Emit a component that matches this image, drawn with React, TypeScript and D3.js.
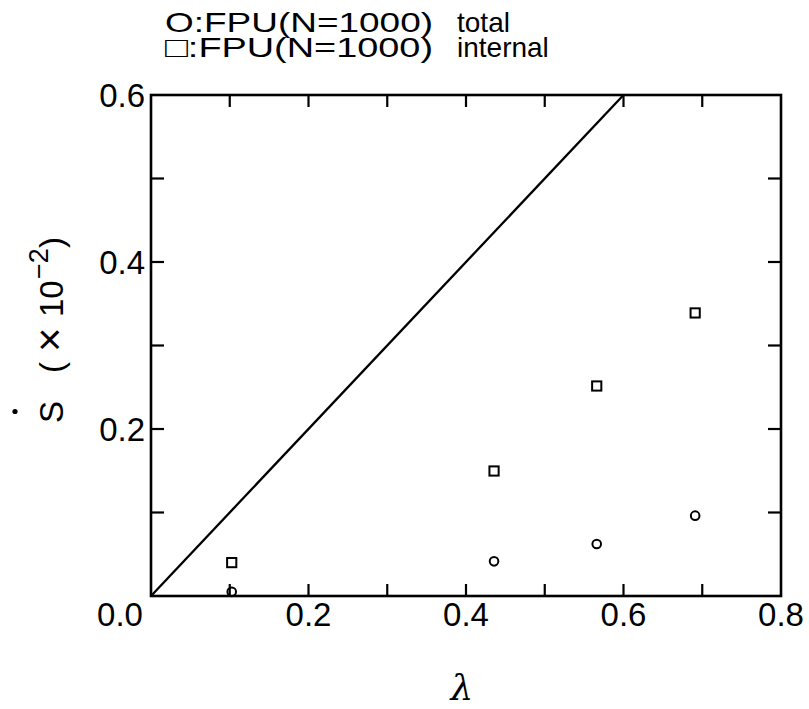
import React from "react";
import * as d3 from "d3";

const lambdaValues = [0.1025, 0.4356, 0.566, 0.691];
const totalValues = [0.005, 0.0415, 0.0623, 0.0962];
const internalValues = [0.04, 0.1497, 0.2515, 0.339];
const referenceLine = [
  [0, 0],
  [0.6, 0.6],
];
const xTicks = [0.1, 0.2, 0.3, 0.4, 0.5, 0.6, 0.7];
const xTickLabels = [0.2, 0.4, 0.6, 0.8];
const yTicks = [0.1, 0.2, 0.3, 0.4, 0.5];
const yTickLabels = [0.2, 0.4, 0.6];
const legendLabels = ["O:FPU(N=1000)", "\u25A1:FPU(N=1000)"];
const legendSuffix = ["total", "internal"];

const W = 809;
const H = 709;
const L = 151;
const R = 781;
const T = 95;
const B = 596;
const FONT = "'Liberation Sans', Arial, Helvetica, sans-serif";

export default function App() {
  const x = d3.scaleLinear().domain([0, 0.8]).range([L, R]);
  const y = d3.scaleLinear().domain([0, 0.6]).range([B, T]);
  const line = d3
    .line<number[]>()
    .x((d) => x(d[0]))
    .y((d) => y(d[1]));
  const fmt = d3.format(".1f");

  return (
    <svg
      width={W}
      height={H}
      style={{ position: "absolute", left: 0, top: 0, background: "#fff" }}
      fontFamily={FONT}
    >
      <rect x={0} y={0} width={W} height={H} fill="#fff" />
      {/* legend */}
      {legendLabels.map((t, i) => (
        <g key={t}>
          <text
            x={165}
            y={31.5 + i * 25}
            fontSize={28}
            textLength={268}
            lengthAdjust="spacingAndGlyphs"
            fill="#000"
          >
            {t}
          </text>
          <text x={457} y={31.5 + i * 25} fontSize={28} fill="#000">
            {legendSuffix[i]}
          </text>
        </g>
      ))}

      {/* frame */}
      <rect
        x={L}
        y={T}
        width={R - L}
        height={B - T}
        fill="none"
        stroke="#000"
        strokeWidth={2.6}
      />
      {/* ticks */}
      {xTicks.map((t) => (
        <g key={"xt" + t}>
          <line x1={x(t)} x2={x(t)} y1={B} y2={B - 12} stroke="#000" strokeWidth={2.2} />
          <line x1={x(t)} x2={x(t)} y1={T} y2={T + 12} stroke="#000" strokeWidth={2.2} />
        </g>
      ))}
      {yTicks.map((t) => (
        <g key={"yt" + t}>
          <line x1={L} x2={L + 13} y1={y(t)} y2={y(t)} stroke="#000" strokeWidth={2.2} />
          <line x1={R} x2={R - 13} y1={y(t)} y2={y(t)} stroke="#000" strokeWidth={2.2} />
        </g>
      ))}
      {/* tick labels */}
      {xTickLabels.map((t) => (
        <text
          key={"xl" + t}
          x={x(t)}
          y={B + 30}
          fontSize={33}
          textAnchor="middle"
          fill="#000"
        >
          {fmt(t)}
        </text>
      ))}
      <text x={x(0) - 31} y={B + 30} fontSize={33} textAnchor="middle" fill="#000">
        {fmt(0)}
      </text>
      {yTickLabels.map((t) => (
        <text
          key={"yl" + t}
          x={L - 6}
          y={y(t) + 12}
          fontSize={33}
          textAnchor="end"
          fill="#000"
        >
          {fmt(t)}
        </text>
      ))}

      {/* reference line */}
      <path d={line(referenceLine as number[][]) || ""} fill="none" stroke="#000" strokeWidth={2.3} />

      {/* markers */}
      {lambdaValues.map((lv, i) => (
        <circle
          key={"c" + i}
          cx={x(lv)}
          cy={y(totalValues[i])}
          r={4.3}
          fill="none"
          stroke="#000"
          strokeWidth={2}
        />
      ))}
      {lambdaValues.map((lv, i) => (
        <rect
          key={"s" + i}
          x={x(lv) - 4.6}
          y={y(internalValues[i]) - 4.6}
          width={9.2}
          height={9.2}
          fill="none"
          stroke="#000"
          strokeWidth={2}
        />
      ))}

      {/* x label */}
      <text
        x={462}
        y={700}
        fontSize={36}
        fontFamily="'DejaVu Serif', 'Liberation Serif', serif"
        fontStyle="italic"
        textAnchor="middle"
        fill="#000"
      >
        λ
      </text>

      {/* y label */}
      <g transform="translate(63,423) rotate(-90)">
        <text x={0} y={0} fontSize={33} fill="#000">
          <tspan>S</tspan>
          <tspan x={50}>(</tspan>
          <tspan x={71} fontSize={42} dy={1}>×</tspan>
          <tspan x={106} dy={-1}>10</tspan>
          <tspan x={144} dy={-15} fontSize={27}>−2</tspan>
          <tspan x={175} dy={15}>)</tspan>
        </text>
        <circle cx={11.5} cy={-48} r={2.6} fill="#000" />
      </g>
    </svg>
  );
}
